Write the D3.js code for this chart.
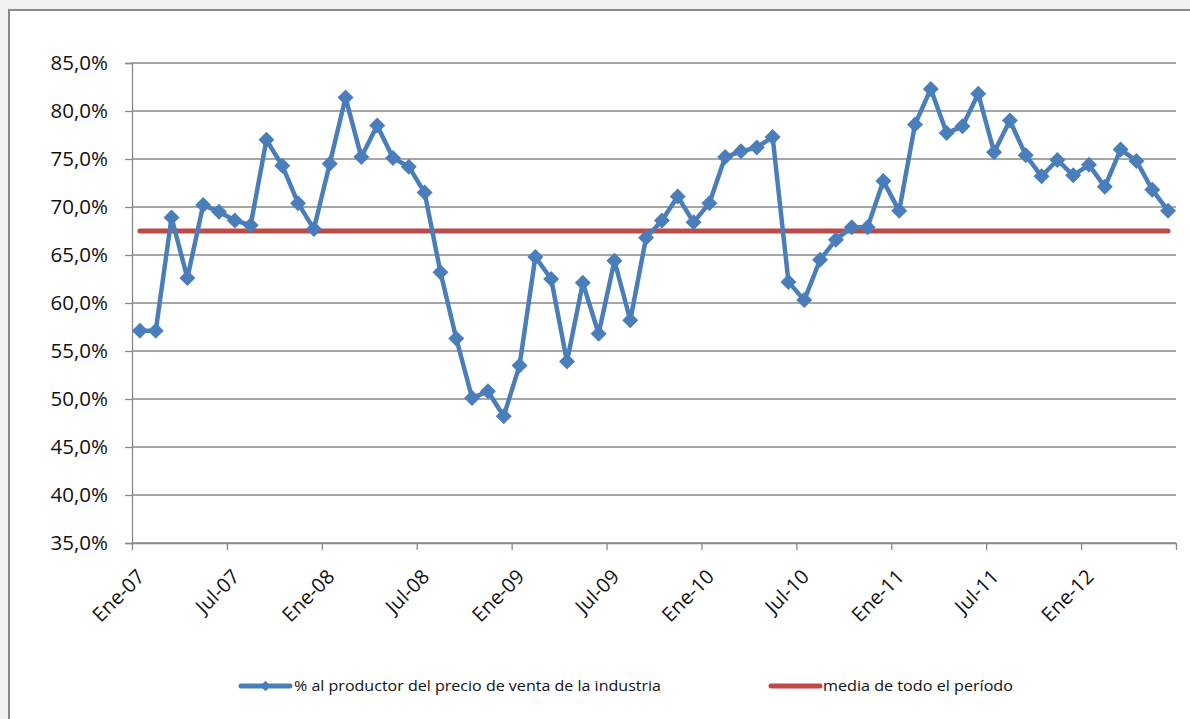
<!DOCTYPE html>
<html>
<head>
<meta charset="utf-8">
<script src="https://cdn.jsdelivr.net/npm/d3@7"></script>
<style>
  html, body { margin: 0; padding: 0; background: #f1f1f3; }
  svg { display: block; }
</style>
</head>
<body>
<svg id="chart" width="1190" height="719"></svg>
<script>
// ---- data ----
const seriesName = "% al productor del precio de venta de la industria";
const meanName = "media de todo el período";
const values = [57.1,57.1,68.9,62.6,70.2,69.5,68.6,68.1,77.0,74.3,
                70.4,67.7,74.5,81.4,75.2,78.5,75.1,74.2,71.5,63.2,
                56.3,50.1,50.8,48.2,53.5,64.8,62.5,53.9,62.1,56.8,
                64.4,58.2,66.8,68.6,71.1,68.4,70.4,75.2,75.8,76.2,
                77.3,62.2,60.3,64.5,66.6,67.9,67.9,72.7,69.6,78.6,
                82.3,77.7,78.4,81.8,75.7,79.0,75.4,73.2,74.9,73.3,
                74.4,72.1,76.0,74.8,71.8,69.6];
const meanValue = 67.5;
const tickLabels = ["Ene-07","Jul-07","Ene-08","Jul-08","Ene-09","Jul-09",
                    "Ene-10","Jul-10","Ene-11","Jul-11","Ene-12",""];
const yTicks = [35,40,45,50,55,60,65,70,75,80,85];

// ---- layout ----
const svg = d3.select("#chart");
const L = 132, R = 1176, T = 63, B = 543;
const blue = "#4A7EBB", red = "#BE4B48", grid = "#888888";
const font = "'Open Sans', 'DejaVu Sans', sans-serif";

// frame
svg.append("rect").attr("x", 9).attr("y", 10).attr("width", 1200).attr("height", 720)
  .attr("fill", "#ffffff").attr("stroke", "#8a8a8a").attr("stroke-width", 2);

const x = d3.scaleLinear().domain([0, values.length]).range([L, R]);
const y = d3.scaleLinear().domain([35, 85]).range([B, T]);

const loc = d3.formatLocale({decimal: ",", thousands: ".", grouping: [3], currency: ["", "€"]});
const fmt = v => loc.format(".1f")(v) + "%";

// gridlines
svg.append("g").selectAll("line").data(yTicks).join("line")
  .attr("x1", L).attr("x2", R)
  .attr("y1", d => y(d)).attr("y2", d => y(d))
  .attr("stroke", grid).attr("stroke-width", 1.3);

// y axis
const yAxis = d3.axisLeft(y).tickValues(yTicks).tickFormat(fmt).tickSize(7).tickPadding(17);
const gy = svg.append("g").attr("transform", `translate(${L},0)`).call(yAxis);
gy.select(".domain").attr("stroke", grid).attr("stroke-width", 1.3);
gy.selectAll(".tick line").attr("stroke", grid).attr("stroke-width", 1.3);
gy.selectAll("text").attr("font-family", font).attr("font-size", 20.5).attr("fill", "#111");

// x axis
const xTickVals = tickLabels.map((d, i) => i * 6);
const xAxis = d3.axisBottom(x).tickValues(xTickVals).tickFormat(() => "").tickSize(7).tickSizeOuter(0);
const gx = svg.append("g").attr("transform", `translate(0,${B})`).call(xAxis);
gx.select(".domain").attr("stroke", grid).attr("stroke-width", 1.3);
gx.selectAll(".tick line").attr("stroke", grid).attr("stroke-width", 1.3);

svg.append("g").selectAll("text").data(tickLabels).join("text")
  .attr("transform", (d, i) => `translate(${x(i * 6) + 9},${B + 30}) rotate(-45)`)
  .attr("text-anchor", "end").attr("dy", "0.35em")
  .attr("font-family", font).attr("font-size", 20).attr("fill", "#111")
  .text(d => d);

// mean line
const cx = i => x(i + 0.5);
svg.append("line")
  .attr("x1", cx(0)).attr("x2", cx(values.length - 1))
  .attr("y1", y(meanValue)).attr("y2", y(meanValue))
  .attr("stroke", red).attr("stroke-width", 5).attr("stroke-linecap", "round");

// series line
const line = d3.line().x((d, i) => cx(i)).y(d => y(d));
svg.append("path").datum(values).attr("d", line)
  .attr("fill", "none").attr("stroke", blue).attr("stroke-width", 4.5)
  .attr("stroke-linejoin", "round");

// markers
const sym = d3.symbol(d3.symbolSquare, 128);
svg.append("g").selectAll("path").data(values).join("path")
  .attr("d", sym)
  .attr("transform", (d, i) => `translate(${cx(i)},${y(d)}) rotate(45)`)
  .attr("fill", blue);

// legend
const ly = 686;
const lg = svg.append("g");
lg.append("line").attr("x1", 241).attr("x2", 290).attr("y1", ly).attr("y2", ly)
  .attr("stroke", blue).attr("stroke-width", 5).attr("stroke-linecap", "round");
lg.append("path").attr("d", d3.symbol(d3.symbolSquare, 55)())
  .attr("transform", `translate(265.5,${ly}) rotate(45)`).attr("fill", blue);
lg.append("text").attr("x", 294).attr("y", ly).attr("dy", "0.35em")
  .attr("font-family", font).attr("font-size", 15).attr("fill", "#111")
  .attr("textLength", 367).attr("lengthAdjust", "spacingAndGlyphs")
  .text(seriesName);
lg.append("line").attr("x1", 771).attr("x2", 820).attr("y1", ly).attr("y2", ly)
  .attr("stroke", red).attr("stroke-width", 5).attr("stroke-linecap", "round");
lg.append("text").attr("x", 823).attr("y", ly).attr("dy", "0.35em")
  .attr("font-family", font).attr("font-size", 15).attr("fill", "#111")
  .attr("textLength", 190).attr("lengthAdjust", "spacingAndGlyphs")
  .text(meanName);
</script>
</body>
</html>
